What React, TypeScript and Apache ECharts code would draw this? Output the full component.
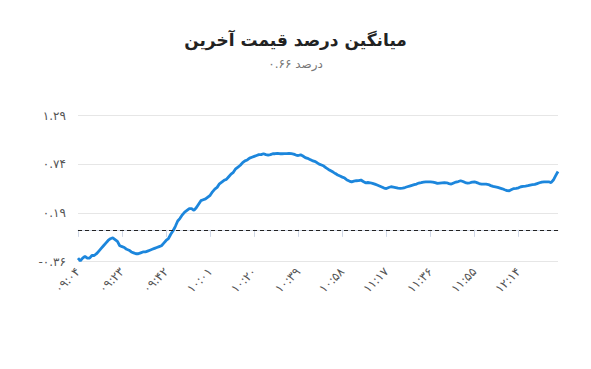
import React, { useEffect, useRef } from "react";
import * as echarts from "echarts";

const titleText = "میانگین درصد قیمت آخرین";
const subtitleText = "۰.۶۶ درصد";
const startHour = 9;
const startMinute = 4;
const yTicks = [-0.36, 0.19, 0.74, 1.29];
const zeroLine = 0;

const values = [
  -0.32, -0.35, -0.32, -0.3, -0.32, -0.32, -0.29, -0.29, -0.27, -0.24,
  -0.21, -0.18, -0.15, -0.12, -0.1, -0.09, -0.11, -0.13, -0.18, -0.19,
  -0.2, -0.22, -0.23, -0.25, -0.26, -0.27, -0.27, -0.26, -0.25, -0.25,
  -0.24, -0.23, -0.22, -0.21, -0.2, -0.19, -0.18, -0.15, -0.12, -0.1,
  -0.05, -0.01, 0.04, 0.1, 0.13, 0.17, 0.2, 0.22, 0.24, 0.24,
  0.22, 0.25, 0.29, 0.33, 0.34, 0.35, 0.37, 0.39, 0.43, 0.46,
  0.48, 0.52, 0.54, 0.56, 0.57, 0.6, 0.63, 0.65, 0.69, 0.71,
  0.73, 0.76, 0.78, 0.79, 0.81, 0.82, 0.83, 0.84, 0.85, 0.85,
  0.86, 0.85, 0.845, 0.85, 0.86, 0.86, 0.865, 0.86, 0.86, 0.862,
  0.862, 0.865, 0.862, 0.856, 0.845, 0.84, 0.848, 0.834, 0.817, 0.808,
  0.796, 0.783, 0.774, 0.76, 0.743, 0.732, 0.721, 0.7, 0.683, 0.668,
  0.653, 0.636, 0.62, 0.608, 0.596, 0.585, 0.563, 0.551, 0.543, 0.551,
  0.555, 0.557, 0.563, 0.546, 0.532, 0.535, 0.532, 0.525, 0.517, 0.506,
  0.495, 0.484, 0.472, 0.467, 0.478, 0.487, 0.484, 0.478, 0.472, 0.469,
  0.472, 0.478, 0.487, 0.495, 0.503, 0.51, 0.517, 0.529, 0.534, 0.54,
  0.542, 0.543, 0.543, 0.54, 0.534, 0.525, 0.529, 0.532, 0.534, 0.532,
  0.523, 0.517, 0.529, 0.54, 0.546, 0.555, 0.546, 0.534, 0.529, 0.532,
  0.54, 0.543, 0.534, 0.523, 0.517, 0.517, 0.517, 0.512, 0.5, 0.491,
  0.486, 0.48, 0.472, 0.464, 0.453, 0.444, 0.442, 0.455, 0.467, 0.469,
  0.475, 0.487, 0.491, 0.495, 0.5, 0.506, 0.51, 0.514, 0.523, 0.532,
  0.54, 0.543, 0.543, 0.543, 0.534, 0.563, 0.613, 0.66,
];

const faDigits = "۰۱۲۳۴۵۶۷۸۹";
const toFa = (s: string) => s.replace(/\d/g, (d) => faDigits[Number(d)]);
const pad = (n: number) => (n < 10 ? "0" + n : String(n));

const times = values.map((_, i) => {
  const total = startHour * 60 + startMinute + i;
  return pad(Math.floor(total / 60)) + ":" + pad(total % 60);
});

export default function App() {
  const ref = useRef<HTMLDivElement>(null);
  useEffect(() => {
    if (!ref.current) return;
    const chart = echarts.init(ref.current, undefined, { renderer: "svg" });
    const font = "'DejaVu Sans', 'Noto Sans', sans-serif";
    chart.setOption({
      animation: false,
      backgroundColor: "#ffffff",
      title: {
        text: titleText,
        subtext: subtitleText,
        left: "center",
        top: 26,
        itemGap: 10,
        textStyle: { fontSize: 17, fontWeight: "bold", color: "#222222", fontFamily: font },
        subtextStyle: { fontSize: 12, color: "#777777", fontFamily: font },
      },
      grid: { left: 78, right: 33, top: 115.7, bottom: 107.3 },
      xAxis: {
        type: "category",
        data: times,
        boundaryGap: false,
        axisLine: { lineStyle: { color: "#cfd7e6", width: 1 } },
        axisTick: { interval: 18, length: 7, lineStyle: { color: "#cfd7e6" } },
        axisLabel: {
          interval: 18,
          rotate: 45,
          margin: 8,
          fontSize: 12,
          color: "#555555",
          fontFamily: font,
          formatter: (v: string) => toFa(v),
        },
        splitLine: { show: false },
      },
      yAxis: {
        type: "value",
        min: yTicks[0],
        max: yTicks[yTicks.length - 1],
        interval: 0.55,
        axisLine: { show: false },
        axisTick: { show: false },
        axisLabel: {
          margin: 12,
          fontSize: 12,
          color: "#555555",
          fontFamily: font,
          formatter: (v: number) => {
            const s = Math.abs(v).toFixed(2);
            return (v < -0.001 ? "-" : "") + toFa(s);
          },
        },
        splitLine: { lineStyle: { color: "#e6e6e6", width: 1 } },
      },
      series: [
        {
          type: "line",
          data: values,
          showSymbol: false,
          symbol: "none",
          lineStyle: { color: "#1c86dc", width: 2.8 },
          markLine: {
            silent: true,
            symbol: "none",
            label: { show: false },
            lineStyle: { color: "#222222", type: [4, 3], width: 1.2 },
            data: [{ yAxis: zeroLine }],
          },
        },
      ],
    });
    return () => chart.dispose();
  }, []);
  return <div ref={ref} style={{ width: 591, height: 369, margin: -8 }} />;
}
